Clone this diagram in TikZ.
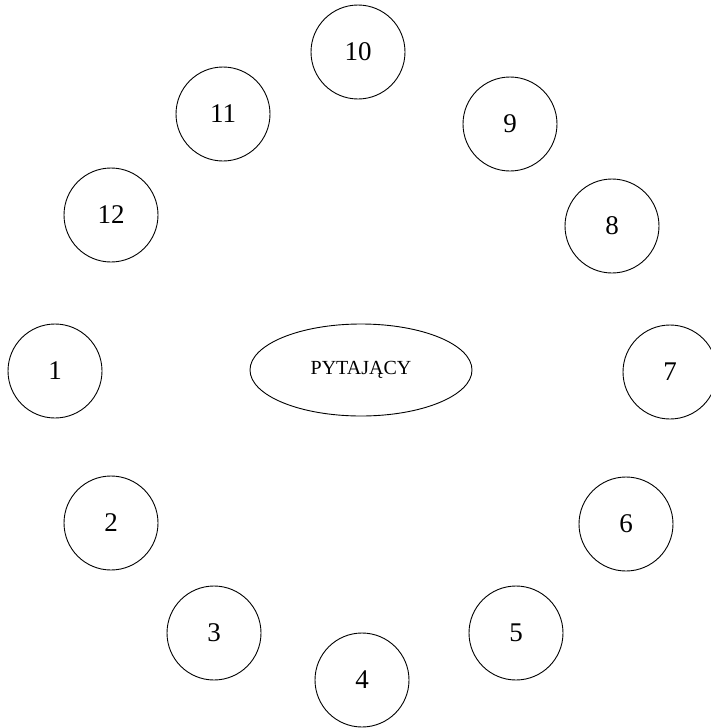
\documentclass[tikz,border=0pt]{standalone}
\usepackage{fontspec}
\setmainfont{Liberation Serif}
\usepackage{tikz}
\usetikzlibrary{shapes.geometric}

\tikzset{
  person/.style={draw, circle, minimum size=94, inner sep=0pt, line width=0.9pt, font=\fontsize{27}{30}\selectfont},
  asker/.style={draw, ellipse, minimum width=222, minimum height=92, inner sep=0pt, line width=0.9pt, font=\fontsize{20}{24}\selectfont}
}

\begin{document}
\begin{tikzpicture}[x=1pt,y=-1pt]
\useasboundingbox (0,0) rectangle (711,728);

% Questioner in the middle
\node[asker] (pyt) at (361,370) {PYTAJĄCY};

% Ring of respondents
\foreach \n/\x/\y in {1/55/371, 2/111/523, 3/214/633, 4/362/680, 5/516/633, 6/626/524,
  7/670/372, 8/612/226, 9/510/124, 10/358/52, 11/223/114, 12/111/215}
{
\node[person] (p\n) at (\x,\y) {\n};
}

\end{tikzpicture}
\end{document}
